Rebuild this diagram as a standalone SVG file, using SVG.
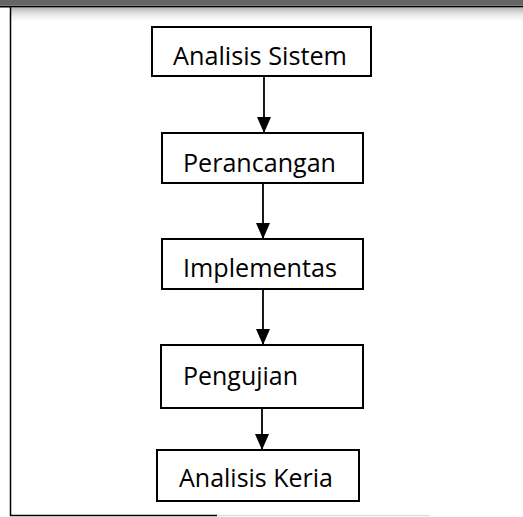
<svg xmlns="http://www.w3.org/2000/svg" width="523" height="517" viewBox="0 0 523 517">
<style>
.box{fill:#fff;stroke:#000;stroke-width:2}
.lbl{font-family:"Open Sans","Liberation Sans",sans-serif;font-size:26px;fill:#000}
.con{stroke:#000;stroke-width:1.8;fill:none}
</style>
<defs>
<marker id="ah" viewBox="0 0 16 14" refX="16" refY="7" markerWidth="16" markerHeight="14" markerUnits="userSpaceOnUse" orient="auto">
<path d="M0,0 L16,7 L0,14 Z" fill="#000"/>
</marker>
<linearGradient id="band" x1="0" y1="0" x2="0" y2="1">
<stop offset="0" stop-color="#888" stop-opacity="0.6"/>
<stop offset="1" stop-color="#fff" stop-opacity="0"/>
</linearGradient>
</defs>
<rect width="523" height="517" fill="#fff"/>
<g id="frame">
<rect x="0" y="0" width="523" height="5" fill="#666"/>
<rect x="11" y="8" width="512" height="16" fill="url(#band)"/>
<line x1="0" y1="6.5" x2="523" y2="6.5" stroke="#000" stroke-width="2"/>
<line x1="10.5" y1="6" x2="10.5" y2="516" stroke="#000" stroke-width="1.5"/>
<line x1="10" y1="515.5" x2="217" y2="515.5" stroke="#000" stroke-width="1.5"/>
<line x1="217" y1="515.5" x2="430" y2="515.5" stroke="#ddd" stroke-width="1.5"/>
</g>
<g id="connectors">
<line class="con" x1="264" y1="76" x2="264" y2="133" marker-end="url(#ah)"/>
<line class="con" x1="263" y1="183" x2="263" y2="239" marker-end="url(#ah)"/>
<line class="con" x1="263" y1="289" x2="263" y2="345" marker-end="url(#ah)"/>
<line class="con" x1="262" y1="408" x2="262" y2="450" marker-end="url(#ah)"/>
</g>
<g id="n1">
<rect class="box" x="152" y="27" width="219" height="49"/>
<text class="lbl" x="173" y="65" textLength="174" lengthAdjust="spacingAndGlyphs">Analisis Sistem</text>
</g>
<g id="n2">
<rect class="box" x="162" y="133" width="201" height="50"/>
<text class="lbl" x="183" y="172" textLength="153" lengthAdjust="spacingAndGlyphs">Perancangan</text>
</g>
<g id="n3">
<rect class="box" x="162" y="239" width="201" height="50"/>
<text class="lbl" x="183" y="277" textLength="154" lengthAdjust="spacingAndGlyphs">Implementas</text>
</g>
<g id="n4">
<rect class="box" x="161" y="345" width="202" height="63"/>
<text class="lbl" x="183" y="385" textLength="115" lengthAdjust="spacingAndGlyphs">Pengujian</text>
</g>
<g id="n5">
<rect class="box" x="157" y="450" width="202" height="51"/>
<text class="lbl" x="179" y="487" textLength="154" lengthAdjust="spacingAndGlyphs">Analisis Keria</text>
</g>
</svg>
